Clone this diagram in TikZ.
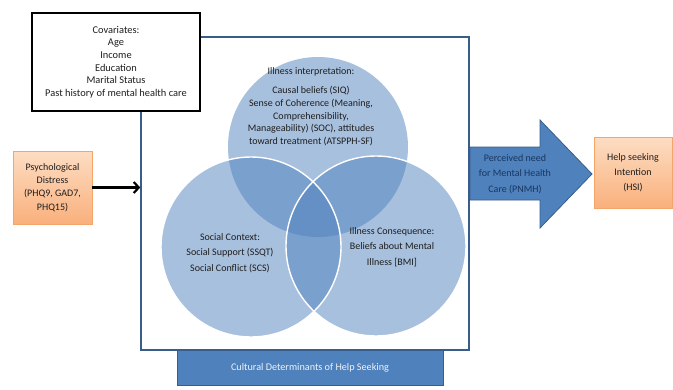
\documentclass[tikz,border=0pt]{standalone}
\usepackage{fontspec}
\setmainfont{Carlito}
\usetikzlibrary{arrows.meta}
\definecolor{cdblue}{HTML}{4F81BD}
\definecolor{cdnavy}{HTML}{385D8A}
\definecolor{cdink}{HTML}{1E1E1E}
\definecolor{cddeep}{HTML}{17375E}
\definecolor{cdorangetop}{HTML}{FDDDC3}
\definecolor{cdorangebot}{HTML}{F9B07C}
\definecolor{cdorangeline}{HTML}{F4A66A}

\begin{document}
\begin{tikzpicture}[x=1pt,y=-1pt,
  txt/.style={font=\fontsize{10}{12.8}\selectfont,text=cdink,align=center,inner sep=0pt},
  blob/.style={circle,minimum size=180pt,inner sep=0pt,fill=cdblue,fill opacity=0.5},
  rim/.style={circle,minimum size=180pt,inner sep=0pt,draw=white,line width=1.4pt},
  orangebox/.style={draw=cdorangeline,line width=0.6pt,top color=cdorangetop,bottom color=cdorangebot,
    inner sep=0pt,align=center,text=cdink}]
  \useasboundingbox (0,0) rectangle (673,389);

  % frame of the cultural determinants
  \node[draw=cdnavy,line width=1.5pt,minimum width=328pt,minimum height=313pt] (culture) at (305,193.5) {};
  \node[draw=cdnavy,fill=cdblue,line width=0.8pt,minimum width=266pt,minimum height=35pt,
    text=white!90!cdblue,font=\fontsize{10.2}{12}\selectfont] (cultlabel) at (310,367.5) {Cultural Determinants of Help Seeking};

  % covariates
  \node[draw=black,fill=white,line width=1.5pt,minimum width=168pt,minimum height=98pt,
    txt,font=\fontsize{10.4}{12.6}\selectfont] (covar) at (116,62)
    {Covariates:\\Age\\Income\\Education\\Marital Status\\Past history of mental health care};

  % three circles
  \node[blob] (interp) at (318,147) {};
  \node[blob] (conseq) at (376,246) {};
  \node[blob] (social) at (251,247) {};
  \node[rim] at (conseq) {};
  \node[rim] at (social) {};

  \node[txt] (interptext) at (311,107)
    {Illness interpretation:\\[6pt]Causal beliefs (SIQ)\\Sense of Coherence (Meaning,\\Comprehensibility,\\
     Manageability) (SOC), attitudes\\toward treatment (ATSPPH-SF)};
  \node[txt] (socialtext) at (230,253)
    {Social Context:\\[2.5pt]Social Support (SSQT)\\[2.5pt]Social Conflict (SCS)};
  \node[txt] (conseqtext) at (392,247)
    {Illness Consequence:\\[2.5pt]Beliefs about Mental\\[2.5pt]Illness [BMI]};

  % distress in, need out
  \node[orangebox,minimum width=79pt,minimum height=73pt,font=\fontsize{10}{13.4}\selectfont] (distress) at (52.5,187.5)
    {Psychological\\Distress\\(PHQ9, GAD7,\\PHQ15)};
  \draw[line width=2.2pt,-{Straight Barb[length=5pt,width=11pt,line width=2.2pt]}]
    (distress.east) -- (distress.east -| culture.west);

  \fill[cdblue,draw=cdnavy,line width=0.8pt]
    (470,147) -- (540,147) -- (540,120) -- (592,174) -- (540,228) -- (540,200) -- (470,200) -- cycle;
  \node[txt,text=cddeep,font=\fontsize{10}{15.5}\selectfont] (need) at (515,174)
    {Perceived need\\for Mental Health\\Care (PNMH)};

  \node[orangebox,minimum width=78pt,minimum height=71pt,font=\fontsize{10}{15}\selectfont] (help) at (633,172.5)
    {Help seeking\\Intention\\(HSI)};
\end{tikzpicture}
\end{document}
